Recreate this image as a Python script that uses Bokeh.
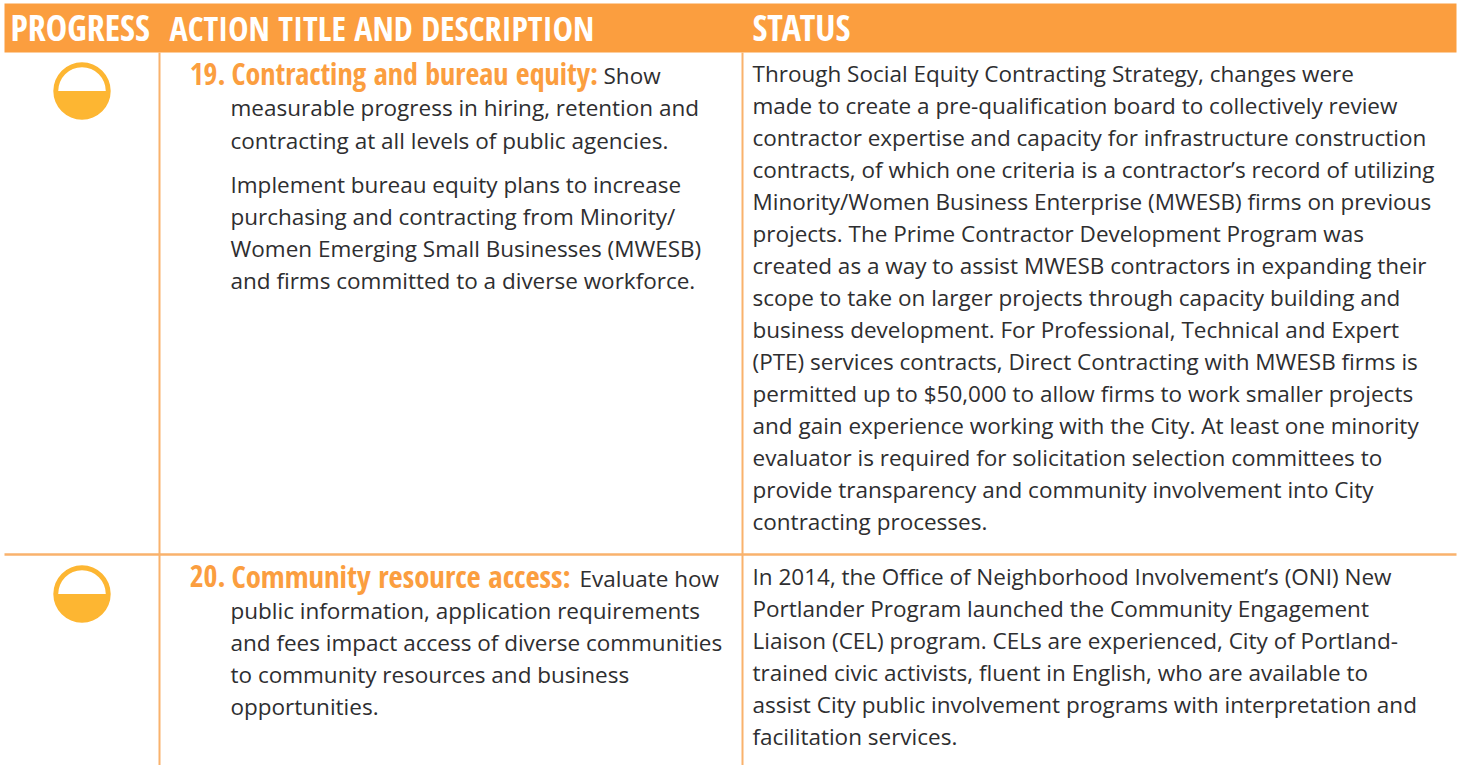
from bokeh.plotting import figure
from bokeh.models import Range1d
from bokeh.core.properties import value
from bokeh.embed import file_html
from bokeh.resources import INLINE

headers = ["PROGRESS", "ACTION TITLE AND DESCRIPTION", "STATUS"]
numbers = ["19.", "20."]
titles = ["Contracting and bureau equity:", "Community resource access:"]
title_tails = ["Show", "Evaluate how"]
progress = [0.5, 0.5]
desc_19a = ["measurable progress in hiring, retention and",
            "contracting at all levels of public agencies."]
desc_19b = ["Implement bureau equity plans to increase",
            "purchasing and contracting from Minority/",
            "Women Emerging Small Businesses (MWESB)",
            "and firms committed to a diverse workforce."]
desc_20 = ["public information, application requirements",
           "and fees impact access of diverse communities",
           "to community resources and business",
           "opportunities."]
status_19 = ["Through Social Equity Contracting Strategy, changes were",
             "made to create a pre-qualification board to collectively review",
             "contractor expertise and capacity for infrastructure construction",
             "contracts, of which one criteria is a contractor\u2019s record of utilizing",
             "Minority/Women Business Enterprise (MWESB) firms on previous",
             "projects. The Prime Contractor Development Program was",
             "created as a way to assist MWESB contractors in expanding their",
             "scope to take on larger projects through capacity building and",
             "business development. For Professional, Technical and Expert",
             "(PTE) services contracts, Direct Contracting with MWESB firms is",
             "permitted up to $50,000 to allow firms to work smaller projects",
             "and gain experience working with the City. At least one minority",
             "evaluator is required for solicitation selection committees to",
             "provide transparency and community involvement into City",
             "contracting processes."]
status_20 = ["In 2014, the Office of Neighborhood Involvement\u2019s (ONI) New",
             "Portlander Program launched the Community Engagement",
             "Liaison (CEL) program. CELs are experienced, City of Portland-",
             "trained civic activists, fluent in English, who are available to",
             "assist City public involvement programs with interpretation and",
             "facilitation services."]

ORANGE = "#FB9E3F"
RULE = "#F9B26C"
GOLD = "#FDB632"
INK = "#2E2E30"
BODY = "Open Sans"
HEAD = "Open Sans Condensed"
BODY_SIZE = "22.5px"

p = figure(width=1460, height=765, x_range=Range1d(0, 1460), y_range=Range1d(765, 0),
           output_backend="svg", toolbar_location=None, min_border=0,
           outline_line_color=None, background_fill_color="white")
p.styles = {"position": "absolute", "left": "0px", "top": "0px"}
p.axis.visible = False
p.grid.visible = False

p.quad(left=[4], right=[1456], top=[3], bottom=[52], fill_color=ORANGE, line_color=None)
p.segment(x0=[159, 742], x1=[159, 742], y0=[52, 52], y1=[765, 765], line_color=RULE, line_width=2)
p.segment(x0=[4], x1=[1456], y0=[554], y1=[554], line_color=RULE, line_width=2.5)

def put(xs, ys, texts, size=BODY_SIZE, font=BODY, color=INK, style="normal", align="left"):
    p.text(x=xs, y=ys, text=texts, text_font=value(font), text_font_size=value(size),
           text_color=color, text_font_style=style, text_align=align, text_baseline="alphabetic")

put([10], [27], headers[:1], size="36px", font=HEAD, color="white", style="bold")
put([169], [27], headers[1:2], size="34px", font=HEAD, color="white", style="bold")
put([752], [26.5], headers[2:], size="36px", font=HEAD, color="white", style="bold")

# progress icons
cy = [90.5, 593.5]
p.circle(x=[81.5] * 2, y=cy, radius=[28.7] * 2, fill_color=GOLD, line_color=None)
p.wedge(x=[81.5] * 2, y=cy, radius=[23.8] * 2,
        start_angle=[0.0 * v for v in progress], end_angle=[6.2832 * v for v in progress],
        fill_color="white", line_color=None)

# row titles
put([225, 225], [73, 575.5], numbers, size="30px", font=HEAD, color=ORANGE, style="bold", align="right")
put([231], [73], titles[:1], size="30px", font=HEAD, color=ORANGE, style="bold")
put([231], [575.5], titles[1:], size="30.7px", font=HEAD, color=ORANGE, style="bold")
put([603, 579], [75, 578], title_tails)

def block(x, y0, step, lines):
    put([x] * len(lines), [y0 + i * step for i in range(len(lines))], lines)

block(230, 107, 32.5, desc_19a)
block(230, 184, 32, desc_19b)
block(230, 610, 32, desc_20)
block(752, 72.5, 32, status_19)
block(752, 575.5, 32, status_20)

open("out.html", "w").write(file_html(p, INLINE))
